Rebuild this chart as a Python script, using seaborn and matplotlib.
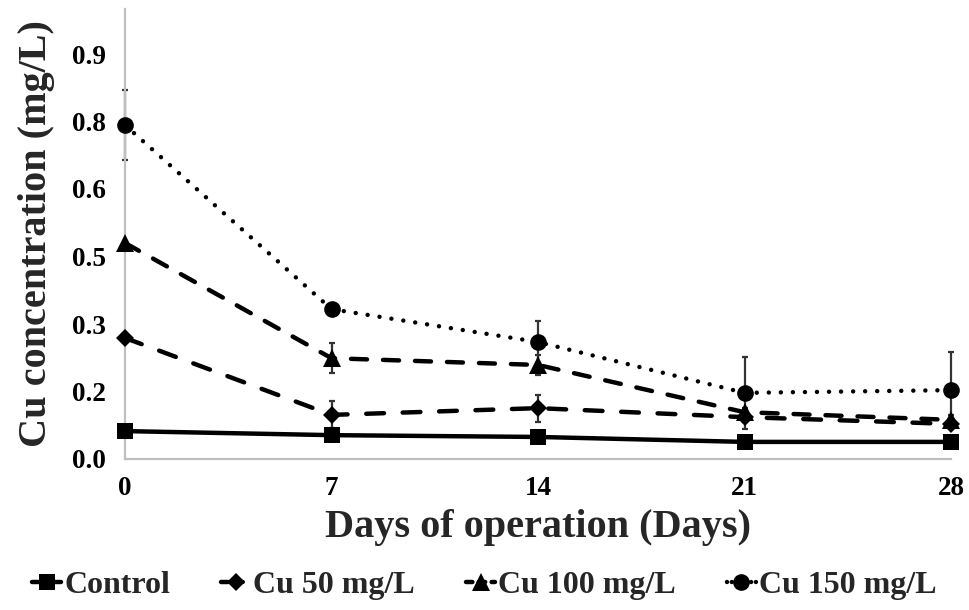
import matplotlib
matplotlib.use("Agg")
import matplotlib.pyplot as plt
from matplotlib.lines import Line2D
import seaborn as sns
import pandas as pd

# Sampling days and measured Cu concentrations (mg/L) with standard deviations
days = [0, 7, 14, 21, 28]
series_names = ["Control", "Cu 50 mg/L", "Cu 100 mg/L", "Cu 150 mg/L"]
control = [0.062, 0.053, 0.049, 0.038, 0.038]
control_sd = [0.002, 0.002, 0.002, 0.002, 0.002]
cu50 = [0.269, 0.098, 0.113, 0.093, 0.078]
cu50_sd = [0.004, 0.030, 0.030, 0.010, 0.010]
cu100 = [0.480, 0.224, 0.209, 0.104, 0.087]
cu100_sd = [0.004, 0.033, 0.022, 0.010, 0.010]
cu150 = [0.742, 0.333, 0.260, 0.147, 0.153]
cu150_sd = [0.078, 0.004, 0.047, 0.080, 0.085]

y_ticks = [0.0, 0.15, 0.30, 0.45, 0.60, 0.75, 0.90]
y_tick_labels = ["0.0", "0.2", "0.3", "0.5", "0.6", "0.8", "0.9"]

values = [control, cu50, cu100, cu150]
errors = [control_sd, cu50_sd, cu100_sd, cu150_sd]

df = pd.DataFrame({
    "Day": days * len(series_names),
    "Cu": sum(values, []),
    "SD": sum(errors, []),
    "Treatment": [n for n in series_names for _ in days],
})

sns.set_theme(style="white")
plt.rcParams["font.family"] = ["Liberation Serif", "DejaVu Serif"]
plt.rcParams["font.weight"] = "bold"
plt.rcParams["lines.dash_capstyle"] = "round"
plt.rcParams["lines.solid_capstyle"] = "round"

fig = plt.figure(figsize=(9.69, 6.10), dpi=100)
ax = fig.add_axes([125 / 969, 1 - 459 / 610, (951 - 125) / 969, (459 - 9) / 610])

lw = 3.2
markers = {"Control": "s", "Cu 50 mg/L": "D", "Cu 100 mg/L": "^", "Cu 150 mg/L": "o"}
msize = {"Control": 11, "Cu 50 mg/L": 9.5, "Cu 100 mg/L": 13, "Cu 150 mg/L": 12}
dashes = {"Control": "", "Cu 50 mg/L": (4.0, 4.2), "Cu 100 mg/L": (3.6, 3.6),
          "Cu 150 mg/L": (0.01, 2.7)}

sns.lineplot(data=df, x="Day", y="Cu", hue="Treatment", style="Treatment",
             palette=["black"] * 4, markers=markers, dashes=dashes,
             linewidth=lw, markeredgewidth=0, ax=ax, legend=False,
             clip_on=False, zorder=3)

for line, name in zip(list(ax.get_lines()), series_names):
    line.set_markersize(msize[name])

# error bars underneath the lines
for name in series_names:
    sub = df[df["Treatment"] == name]
    ax.errorbar(sub["Day"], sub["Cu"], yerr=sub["SD"], fmt="none",
                ecolor="#333333", elinewidth=1.6, capsize=2.5, capthick=1.6,
                zorder=2, clip_on=False)

ax.set_xlim(0, 28)
ax.set_ylim(0, 1.0)
ax.set_xticks(days)
ax.set_xticklabels([str(d) for d in days])
ax.set_yticks(y_ticks)
ax.set_yticklabels(y_tick_labels)

for side in ["top", "right"]:
    ax.spines[side].set_visible(False)
for side in ["left", "bottom"]:
    ax.spines[side].set_color("#bfbfbf")
    ax.spines[side].set_linewidth(1.6)
ax.tick_params(axis="both", direction="in", length=6, width=1.4,
               color="#bfbfbf", labelsize=19.5, labelcolor="black")
ax.tick_params(axis="x", pad=12)
ax.tick_params(axis="y", pad=14)
for lab in ax.get_xticklabels() + ax.get_yticklabels():
    lab.set_fontweight("bold")

ax.set_xlabel("Days of operation (Days)", fontsize=29, fontweight="bold", labelpad=6)
ax.set_ylabel("Cu concentration (mg/L)", fontsize=29, fontweight="bold", labelpad=12)

# legend with short line+marker handles
handles = []
for name in series_names:
    d = dashes[name]
    h = Line2D([], [], color="black", marker=markers[name], markersize=msize[name],
               linewidth=lw, markeredgewidth=0,
               linestyle="-" if d == "" else (0, (d[0] * 0.4, d[1] * 0.4)))
    handles.append(h)
fig.legend(handles, series_names, loc="center", bbox_to_anchor=(0.5, 1 - 585 / 610),
           ncol=4, frameon=False, prop={"size": 23, "weight": "bold"},
           handlelength=0.9, handletextpad=0.1, columnspacing=1.6)

fig.savefig("out.png", dpi=100)
